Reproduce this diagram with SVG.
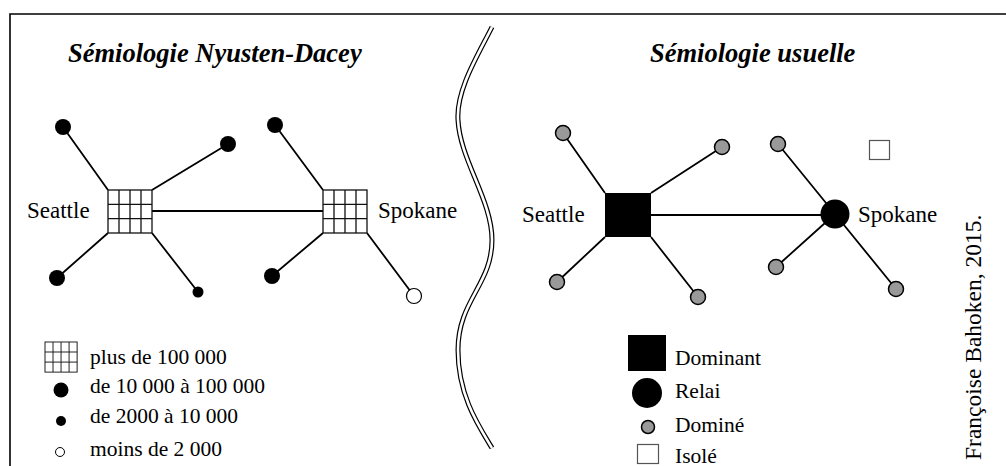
<svg xmlns="http://www.w3.org/2000/svg" width="1006" height="466" viewBox="0 0 1006 466">
<defs>
<style>
.t{font-family:"Liberation Serif","Times New Roman",serif;fill:#000}
.title{font-size:26.5px;font-weight:bold;font-style:italic}
.lbl{font-size:23px}
.leg{font-size:21.5px}
.ln{stroke:#000;stroke-width:1.8;fill:none}
.grid{fill:#fff;stroke:#111;stroke-width:1.3}
.big{fill:#000}
.gray{fill:#999;stroke:#000;stroke-width:1.5}
</style>
<g id="gridsym">
<rect class="grid" x="0" y="0" width="44" height="43"/>
<path class="grid" d="M11,0V43M22,0V43M33,0V43M0,14.3H44M0,28.7H44"/>
</g>
</defs>
<rect width="1006" height="466" fill="#fff"/>
<path d="M10,466V14H1006" stroke="#000" stroke-width="1.6" fill="none"/>

<g id="separator">
<path d="M492,27 C478,55 456,90 458,120 C460,160 492,200 492,240 C492,285 458,300 458,350 C458,395 478,425 492,448" stroke="#000" stroke-width="5" fill="none"/>
<path d="M492,27 C478,55 456,90 458,120 C460,160 492,200 492,240 C492,285 458,300 458,350 C458,395 478,425 492,448" stroke="#fff" stroke-width="2.6" fill="none"/>
</g>

<text class="t title" x="68" y="62">Sémiologie Nyusten-Dacey</text>
<text class="t title" x="650" y="62">Sémiologie usuelle</text>

<g id="connectors">
<path class="ln" d="M63,127L108,190M228,144L152,190M57,278L108,233M198,292L152,233M152,211H323M275,125L323,190M272,276L323,233M414,296L367,233"/>
<path class="ln" d="M563,133L605,193M722,147L651,193M557,282L605,237M698,297L651,237M651,215H835M778,144L835,214M776,267L835,214M896,289L835,214"/>
</g>

<g id="nd-seattle"><use href="#gridsym" x="108" y="190"/><text class="t lbl" x="27" y="218">Seattle</text></g>
<g id="nd-spokane"><use href="#gridsym" x="323" y="190"/><text class="t lbl" x="378" y="218">Spokane</text></g>
<g id="nd-l1"><circle class="big" cx="63" cy="127" r="8"/></g>
<g id="nd-l2"><circle class="big" cx="228" cy="144" r="8"/></g>
<g id="nd-l3"><circle class="big" cx="57" cy="278" r="8"/></g>
<g id="nd-l4"><circle class="big" cx="198" cy="292" r="5.5"/></g>
<g id="nd-l5"><circle class="big" cx="275" cy="125" r="8"/></g>
<g id="nd-l6"><circle class="big" cx="272" cy="276" r="8"/></g>
<g id="nd-l7"><circle cx="414" cy="296" r="7.5" fill="#fff" stroke="#000" stroke-width="1.2"/></g>

<g id="nd-seattle2"><rect x="605" y="193" width="46" height="44" fill="#000"/><text class="t lbl" x="522" y="222">Seattle</text></g>
<g id="nd-spokane2"><circle cx="835" cy="214" r="14.5" fill="#000"/><text class="t lbl" x="858" y="222">Spokane</text></g>
<g id="nd-r1"><circle class="gray" cx="563" cy="133" r="7.5"/></g>
<g id="nd-r2"><circle class="gray" cx="722" cy="147" r="7.5"/></g>
<g id="nd-r3"><circle class="gray" cx="557" cy="282" r="7.5"/></g>
<g id="nd-r4"><circle class="gray" cx="698" cy="297" r="7.5"/></g>
<g id="nd-r5"><circle class="gray" cx="778" cy="144" r="7.5"/></g>
<g id="nd-r6"><circle class="gray" cx="776" cy="267" r="7.5"/></g>
<g id="nd-r7"><circle class="gray" cx="896" cy="289" r="7.5"/></g>
<g id="nd-isole"><rect x="869.5" y="140.5" width="20" height="19" fill="#fff" stroke="#555" stroke-width="1.2"/></g>

<g id="legend-left">
<use href="#gridsym" transform="translate(45,342) scale(0.73,0.7)"/>
<text class="t leg" x="90" y="364">plus de 100 000</text>
<circle class="big" cx="61" cy="390" r="7.5"/>
<text class="t leg" x="90" y="393">de 10 000 à 100 000</text>
<circle class="big" cx="61" cy="421" r="5"/>
<text class="t leg" x="90" y="423">de 2000 à 10 000</text>
<circle cx="60" cy="452" r="4.5" fill="#fff" stroke="#000" stroke-width="1"/>
<text class="t leg" x="90" y="456">moins de 2 000</text>
</g>

<g id="legend-right">
<rect x="628" y="335" width="38" height="36" fill="#000"/>
<text class="t leg" x="675" y="365">Dominant</text>
<circle cx="647" cy="393" r="15" fill="#000"/>
<text class="t leg" x="675" y="398">Relai</text>
<circle class="gray" cx="648" cy="427" r="6.5"/>
<text class="t leg" x="675" y="432">Dominé</text>
<rect x="637.5" y="444.5" width="21" height="19" fill="#fff" stroke="#555" stroke-width="1.2"/>
<text class="t leg" x="675" y="463">Isolé</text>
</g>

<text class="t" font-size="23.5" transform="translate(981,460) rotate(-90)">Françoise Bahoken, 2015.</text>
</svg>
